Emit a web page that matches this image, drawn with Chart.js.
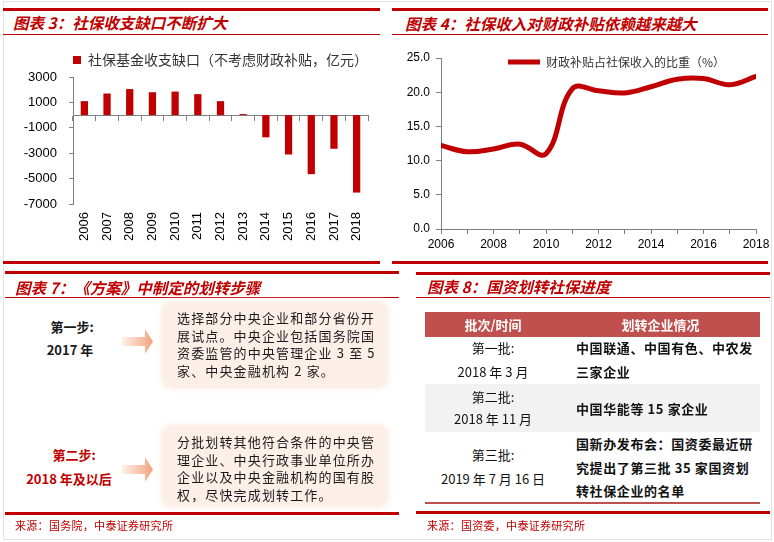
<!DOCTYPE html>
<html>
<head>
<meta charset="utf-8">
<script src="https://cdn.jsdelivr.net/npm/chart.js@4.4.1/dist/chart.umd.min.js"></script>
<style>
  body { margin: 0; background: #fff; font-family: "Noto Sans CJK SC", sans-serif; }
  #page { position: relative; width: 774px; height: 542px; overflow: hidden; }
  .frame { position: absolute; left: 3px; top: 1px; width: 767px; height: 537px; border: 1px solid #e2e2e2; }
  .thick { position: absolute; height: 3px; background: #c00000; }
  .thin { position: absolute; height: 1px; background: #c00000; }
  .ttl { position: absolute; color: #c00000; font-weight: bold; font-style: italic; font-size: 15.5px;
         letter-spacing: 0; white-space: nowrap; line-height: 20px; }
  .src { position: absolute; color: #c00000; font-size: 11px; white-space: nowrap; line-height: 14px; letter-spacing: 0.3px; }
  .box { position: absolute; left: 162px; width: 226px; border-radius: 10px; background: #fcefe8;
         box-shadow: 0 0 5px 2px #fdf3ee; }
  .boxtxt { position: absolute; left: 177px; font-size: 13px; letter-spacing: 1.15px; line-height: 17.7px;
            color: #1a1a1a; white-space: nowrap; }
  .arrow { position: absolute; left: 122px; width: 31px; height: 25px;
           background: linear-gradient(90deg, #fdf1ea, #f3a27b);
           clip-path: polygon(0 32%, 74% 32%, 74% 0, 100% 50%, 74% 100%, 74% 68%, 0 68%); }
  .step { position: absolute; font-size: 13px; font-weight: bold; white-space: nowrap; text-align: center;
          line-height: 18px; color: #1a1a1a; }
  .cell { position: absolute; font-size: 13px; white-space: nowrap; color: #111; }
  .c1 { left: 425px; width: 136px; text-align: center; }
  .c2 { left: 576px; font-weight: bold; letter-spacing: 0.6px; }
</style>
</head>
<body>
<div id="page">
  <div class="frame"></div>

  <!-- 图表3 -->
  <div class="thick" style="left:3px;top:8px;width:377px;"></div>
  <div class="ttl" style="left:13px;top:12px;">图表 3：社保收支缺口不断扩大</div>
  <div class="thin" style="left:3px;top:34px;width:377px;"></div>
  <div style="position:absolute;left:0;top:40px;width:385px;height:222px;"><canvas id="gapChart" width="385" height="222"></canvas></div>
  <div class="thick" style="left:3px;top:261px;width:377px;"></div>

  <!-- 图表4 -->
  <div class="thick" style="left:392px;top:8px;width:376px;"></div>
  <div class="ttl" style="left:405px;top:13px;">图表 4：社保收入对财政补贴依赖越来越大</div>
  <div class="thin" style="left:392px;top:34px;width:376px;"></div>
  <div style="position:absolute;left:385px;top:40px;width:389px;height:222px;"><canvas id="ratioChart" width="389" height="222"></canvas></div>
  <div class="thick" style="left:392px;top:261px;width:376px;"></div>

  <!-- 图表7 -->
  <div class="thick" style="left:5px;top:271px;width:394px;"></div>
  <div class="ttl" style="left:15px;top:277px;">图表 7：《方案》中制定的划转步骤</div>
  <div class="thin" style="left:5px;top:297px;width:394px;"></div>

  <div class="step" style="left:30px;top:318px;width:84px;">第一步:</div>
  <div class="step" style="left:28px;top:341px;width:84px;">2017 年</div>
  <div class="arrow" style="top:329px;"></div>
  <div class="box" style="top:302px;height:86px;"></div>
  <div class="boxtxt" style="top:309px;">选择部分中央企业和部分省份开<br>展试点。中央企业包括国务院国<br>资委监管的中央管理企业 3 至 5<br>家、中央金融机构 2 家。</div>

  <div class="step" style="left:30px;top:446px;width:88px;color:#c00000;">第二步:</div>
  <div class="step" style="left:20px;top:470px;width:98px;color:#c00000;">2018 年及以后</div>
  <div class="arrow" style="top:457px;"></div>
  <div class="box" style="top:425px;height:82px;"></div>
  <div class="boxtxt" style="top:433px;">分批划转其他符合条件的中央管<br>理企业、中央行政事业单位所办<br>企业以及中央金融机构的国有股<br>权，尽快完成划转工作。</div>

  <div class="thick" style="left:5px;top:512px;width:394px;"></div>
  <div class="src" style="left:15px;top:518px;">来源：国务院，中泰证券研究所</div>

  <!-- 图表8 -->
  <div class="thick" style="left:416px;top:272px;width:354px;"></div>
  <div class="ttl" style="left:427px;top:276px;">图表 8：国资划转社保进度</div>
  <div class="thin" style="left:416px;top:297px;width:354px;"></div>

  <div style="position:absolute;left:425px;top:312px;width:335px;height:25px;background:#c0504d;"></div>
  <div class="cell c1" style="top:312px;line-height:25px;color:#fff;font-weight:bold;">批次/时间</div>
  <div class="cell" style="left:561px;width:199px;text-align:center;top:312px;line-height:25px;color:#fff;font-weight:bold;">划转企业情况</div>

  <div style="position:absolute;left:425px;top:384px;width:335px;height:48px;background:#f2f2f2;"></div>
  <div style="position:absolute;left:425px;top:502px;width:335px;height:2px;background:#c0504d;"></div>

  <div class="cell c1" style="top:336px;line-height:24px;">第一批:<br>2018 年 3 月</div>
  <div class="cell c2" style="top:336px;line-height:24px;">中国联通、中国有色、中农发<br>三家企业</div>
  <div class="cell c1" style="top:386px;line-height:22px;">第二批:<br>2018 年 11 月</div>
  <div class="cell c2" style="top:397px;line-height:24px;">中国华能等 15 家企业</div>
  <div class="cell c1" style="top:443px;line-height:24px;">第三批:<br>2019 年 7 月 16 日</div>
  <div class="cell c2" style="top:432px;line-height:23.5px;">国新办发布会：国资委最近研<br>究提出了第三批 35 家国资划<br>转社保企业的名单</div>

  <div class="thick" style="left:416px;top:511px;width:354px;"></div>
  <div class="src" style="left:427px;top:518px;">来源：国资委，中泰证券研究所</div>
</div>

<script>
// 图表3：社保基金收支缺口（亿元）
const gapYears = ['2006', '2007', '2008', '2009', '2010', '2011', '2012', '2013', '2014', '2015', '2016', '2017', '2018'];
const gapValues = [1100, 1700, 2050, 1800, 1850, 1650, 1100, 80, -1750, -3100, -4650, -2650, -6100];
const gapLabel = '社保基金收支缺口（不考虑财政补贴，亿元）';

// 图表4：财政补贴占社保收入的比重（%）
const ratioYears = [2006, 2007, 2008, 2009, 2010, 2011, 2012, 2013, 2014, 2015, 2016, 2017, 2018];
const ratioValues = [12.2, 11.3, 11.7, 12.4, 11.0, 20.5, 20.2, 19.9, 20.8, 21.9, 22.0, 21.1, 22.3];
const ratioLabel = '财政补贴占社保收入的比重（%）';

const latin = '"Liberation Sans", Arial, sans-serif';
const cjk = '"Noto Sans CJK SC", sans-serif';
const axisGrey = '#808080';

new Chart(document.getElementById('gapChart'), {
  type: 'bar',
  data: {
    labels: gapYears,
    datasets: [{
      label: gapLabel,
      data: gapValues,
      backgroundColor: '#c00000',
      borderWidth: 0,
      barPercentage: 0.32,
      categoryPercentage: 1
    }]
  },
  options: {
    responsive: false,
    animation: false,
    layout: { padding: { top: 10, right: 17, left: 0, bottom: 0 } },
    plugins: {
      legend: {
        fullSize: false,
        labels: { boxWidth: 8, boxHeight: 8, padding: 3, color: '#333', font: { size: 14, family: cjk } }
      },
      tooltip: { enabled: false }
    },
    scales: {
      x: {
        grid: { display: false, drawTicks: false },
        border: { display: false },
        ticks: { minRotation: 90, maxRotation: 90, padding: 8, color: '#000', font: { size: 13, family: latin } },
        afterFit(s) { s.height = 58; }
      },
      x2: {
        type: 'category',
        axis: 'x',
        position: { y: 0 },
        offset: true,
        grid: { drawOnChartArea: false, offset: true, tickLength: 5, color: axisGrey },
        border: { color: axisGrey },
        ticks: { display: false }
      },
      y: {
        min: -7000,
        max: 3000,
        ticks: { stepSize: 2000, padding: 12, color: '#000', font: { size: 13, family: latin }, callback: v => String(v) },
        grid: { drawOnChartArea: false, tickLength: 4, color: axisGrey },
        border: { color: axisGrey },
        afterFit(s) { s.width = 73; }
      }
    }
  }
});

// 图例放在绘图区内，向右移一些
const legendShift = {
  id: 'legendShift',
  afterLayout(chart) {
    const lg = chart.legend;
    lg.left = chart.chartArea.left + 67;
    lg.top = chart.chartArea.top - 2;
  }
};

new Chart(document.getElementById('ratioChart'), {
  type: 'line',
  data: {
    datasets: [{
      label: ratioLabel,
      data: ratioYears.map((yr, i) => ({ x: yr, y: ratioValues[i] })),
      borderColor: '#c00000',
      backgroundColor: '#c00000',
      borderWidth: 5,
      borderCapStyle: 'round',
      pointRadius: 0,
      tension: 0.4,
      fill: false
    }]
  },
  options: {
    responsive: false,
    animation: false,
    layout: { padding: { top: 18, right: 18, left: 0, bottom: 0 } },
    plugins: {
      legend: {
        position: 'chartArea',
        align: 'start',
        labels: {
          usePointStyle: true, pointStyle: 'line', pointStyleWidth: 32, padding: 0,
          color: '#333', font: { size: 12, family: cjk }
        }
      },
      tooltip: { enabled: false }
    },
    scales: {
      x: {
        type: 'linear',
        min: 2006,
        max: 2018,
        ticks: {
          stepSize: 1, autoSkip: false, maxRotation: 0, padding: 3, color: '#000',
          font: { size: 12, family: latin },
          callback: v => (v % 2 === 0 ? String(v) : '')
        },
        grid: { drawOnChartArea: false, tickLength: 5, color: axisGrey },
        border: { color: axisGrey },
        afterFit(s) { s.height = 33; }
      },
      y: {
        min: 0,
        max: 25,
        ticks: { stepSize: 5, padding: 6, color: '#000', font: { size: 12, family: latin }, callback: v => v.toFixed(1) },
        grid: { drawOnChartArea: false, tickLength: 5, color: axisGrey },
        border: { color: axisGrey },
        afterFit(s) { s.width = 56; }
      }
    }
  },
  plugins: [legendShift]
});
</script>
</body>
</html>
